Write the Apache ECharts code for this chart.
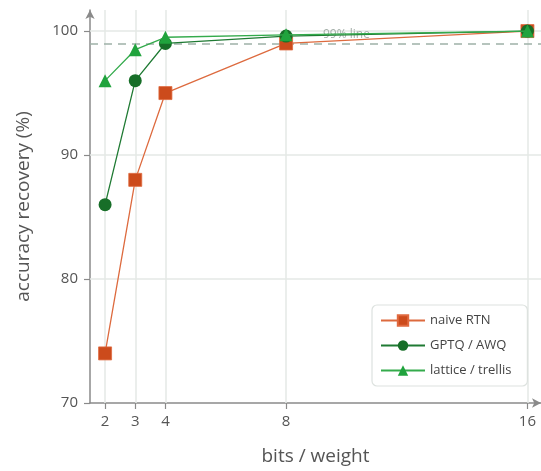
<!DOCTYPE html>
<html>
<head>
<meta charset="utf-8">
<script src="https://cdn.jsdelivr.net/npm/echarts@6/dist/echarts.min.js"></script>
<style>
  html, body { margin: 0; padding: 0; background: #ffffff; }
  #chart { width: 541px; height: 471px; }
</style>
</head>
<body>
<div id="chart"></div>
<script>
// Bit widths on the x axis and recovered accuracy (%) for each method
const bits = [2, 3, 4, 8, 16];
const naiveRTN = [74, 88, 95, 99, 100];
const gptqAWQ = [86, 96, 99, 99.6, 100];
const latticeTrellis = [96, 98.5, 99.5, 99.7, 100];

const yTicks = [70, 80, 90, 100];
const gridX = [2, 3, 4, 8, 16];
const gridY = [80, 90, 100];
const thresholdValue = 99;
const thresholdLabel = '99% line';
const thresholdLabelX = 10;

const FONT = '"Open Sans", "Noto Sans", sans-serif';
const AXIS_GRAY = '#8a8a8a';
const GRID_COLOR = '#e4e9e6';

const pairs = ys => bits.map((b, i) => [b, ys[i]]);

const chart = echarts.init(document.getElementById('chart'), null, { renderer: 'canvas' });

chart.setOption({
  backgroundColor: '#ffffff',
  animation: false,
  textStyle: { fontFamily: FONT },
  grid: { left: 90, top: 10, width: 451, bottom: 68, containLabel: false },
  legend: {
    data: ['naive RTN', 'GPTQ / AWQ', 'lattice / trellis'],
    orient: 'vertical',
    left: 372,
    top: 305,
    itemWidth: 44,
    itemHeight: 13,
    itemGap: 12,
    padding: [9, 16, 9, 8],
    borderColor: '#dde2df',
    borderWidth: 1.2,
    borderRadius: 5,
    textStyle: { fontFamily: FONT, fontSize: 13, color: '#444' }
  },
  xAxis: {
    type: 'value',
    min: 1.5,
    max: 16.45,
    name: 'bits / weight',
    nameLocation: 'middle',
    nameGap: 44,
    nameTextStyle: { fontFamily: FONT, fontSize: 19, color: '#555' },
    axisLine: { show: true, lineStyle: { color: AXIS_GRAY, width: 1.5 }, symbol: ['none', 'arrow'], symbolSize: [7, 9] },
    axisTick: { show: true, length: 6, lineStyle: { color: AXIS_GRAY, width: 1.2 }, customValues: bits },
    axisLabel: { customValues: bits, margin: 11, fontFamily: FONT, fontSize: 15, color: '#555' },
    splitLine: { show: false }
  },
  yAxis: {
    type: 'value',
    min: 70,
    max: 101.7,
    interval: 10,
    name: 'accuracy recovery (%)',
    nameLocation: 'middle',
    nameGap: 57,
    nameTextStyle: { fontFamily: FONT, fontSize: 19, color: '#555' },
    axisLine: { show: true, lineStyle: { color: AXIS_GRAY, width: 1.5 }, symbol: ['none', 'arrow'], symbolSize: [7, 9] },
    axisTick: { show: true, length: 6, lineStyle: { color: AXIS_GRAY, width: 1.2 }, customValues: yTicks },
    axisLabel: { customValues: yTicks, margin: 12, fontFamily: FONT, fontSize: 15, color: '#555' },
    splitLine: { show: false }
  },
  series: [
    {
      // background grid and the 99% threshold
      name: 'grid',
      type: 'line',
      data: [],
      z: 1,
      silent: true,
      markLine: {
        silent: true,
        z: 1,
        symbol: ['none', 'none'],
        label: { show: false },
        lineStyle: { color: GRID_COLOR, width: 1.5, type: 'solid' },
        data: gridX.map(v => ({ xAxis: v })).concat(gridY.map(v => ({ yAxis: v }))).concat([
          { yAxis: thresholdValue, lineStyle: { color: '#9fb1a8', width: 1.5, type: [8, 6] } }
        ])
      },
      markPoint: {
        silent: true,
        z: 1,
        symbol: 'circle',
        symbolSize: 0,
        label: {
          show: true,
          position: 'top',
          distance: 3,
          formatter: thresholdLabel,
          fontFamily: FONT,
          fontSize: 12,
          color: '#a3aea8'
        },
        data: [{ coord: [thresholdLabelX, thresholdValue] }]
      }
    },
    {
      name: 'naive RTN',
      type: 'line',
      data: pairs(naiveRTN),
      z: 3,
      symbol: 'rect',
      symbolSize: 13,
      lineStyle: { color: '#dd6a3e', width: 1.3 },
      itemStyle: { color: '#cc4b1c', borderColor: '#e0693f', borderWidth: 0.8 }
    },
    {
      name: 'GPTQ / AWQ',
      type: 'line',
      data: pairs(gptqAWQ),
      z: 4,
      symbol: 'circle',
      symbolSize: 13,
      lineStyle: { color: '#1f7a33', width: 1.3 },
      itemStyle: { color: '#176e28' }
    },
    {
      name: 'lattice / trellis',
      type: 'line',
      data: pairs(latticeTrellis),
      z: 5,
      symbol: 'triangle',
      symbolSize: 13,
      lineStyle: { color: '#34ab4c', width: 1.3 },
      itemStyle: { color: '#20a33d' }
    }
  ]
});
</script>
</body>
</html>
